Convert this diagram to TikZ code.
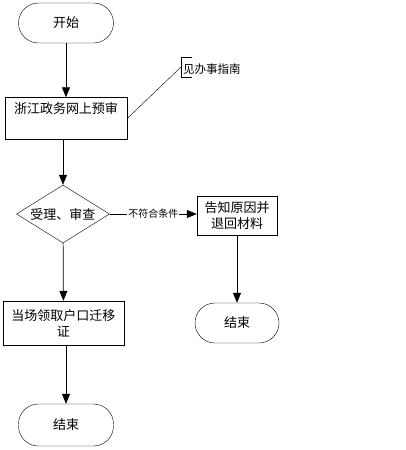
\documentclass[tikz,border=0pt]{standalone}
\usepackage{fontspec}
\setmainfont{Noto Sans CJK SC}
\usetikzlibrary{shapes.geometric,arrows.meta}

\begin{document}
\begin{tikzpicture}[x=1pt,y=-1pt,font=\fontsize{13}{16}\selectfont,
    terminal/.style={draw,rounded corners=20pt,minimum width=95pt,minimum height=40pt},
    process/.style={draw,minimum width=122pt,minimum height=42pt,align=center},
    decision/.style={draw,diamond,aspect=1.6,minimum width=93pt,minimum height=58pt,inner sep=0pt},
    flow/.style={-{Triangle[length=10pt,width=8pt]},line width=0.7pt}]
    \useasboundingbox (0,0) rectangle (406,450);

    % Left column
    \node[terminal] (start) at (66,23) {开始};
    \node[process] (pre) at (66,118.5) {};
    \node[anchor=north,yshift=-2pt] (pretext) at (pre.north) {浙江政务网上预审};
    \node[decision] (check) at (63,214) {受理、审查};
    \node[process,minimum width=121pt,minimum height=44pt] (take) at (63.5,323) {当场领取户口迁移\\证};
    \node[terminal,minimum height=42pt] (end1) at (66,425) {结束};

    % Right column
    \node[process,minimum width=80pt,minimum height=39pt] (notify) at (237,215.5) {告知原因并\\退回材料};
    \node[terminal,minimum width=84pt] (end2) at (237,323) {结束};

    % Note
    \coordinate (brk) at (181,67);
    \draw (pre.east) -- (brk);
    \draw (192,57) -- (181,57) -- (181,77) -- (192,77);
    \node[anchor=west,inner sep=1pt,font=\fontsize{11.5}{13}\selectfont] (note) at (182,69) {见办事指南};

    % Connectors
    \draw[flow] (start) -- (pre);
    \draw[flow] (check.north |- pre.south) -- (check);
    \draw[flow] (check) -- (take);
    \draw[flow] (end1.north |- take.south) -- (end1);
    \draw[flow] (check.east) -- node[fill=white,inner sep=1pt,font=\fontsize{10}{12}\selectfont] {不符合条件} (check.east -| notify.west);
    \draw[flow] (notify) -- (end2);
\end{tikzpicture}
\end{document}
